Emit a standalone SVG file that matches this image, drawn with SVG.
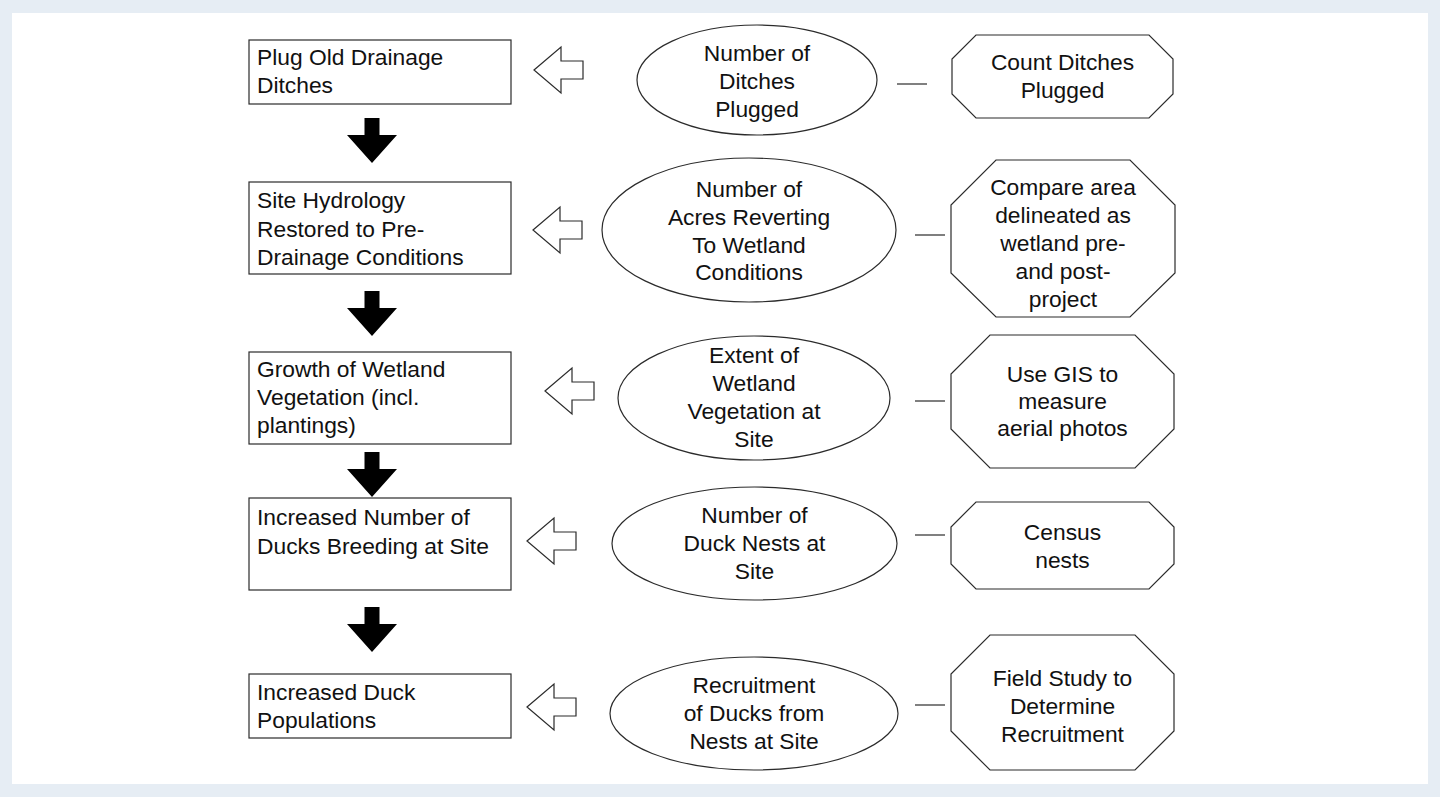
<svg xmlns="http://www.w3.org/2000/svg" xmlns:xlink="http://www.w3.org/1999/xlink" width="1440" height="797" viewBox="0 0 1440 797">
  <style>
    .shape { fill: #ffffff; stroke: #2b2b2b; stroke-width: 1.2; }
    .lbl { font-family: "Liberation Sans", Arial, sans-serif; font-size: 22.8px; fill: #111111; }
    .mid { text-anchor: middle; }
    .link { stroke: #2b2b2b; stroke-width: 1.2; fill: none; }
    .hollow { fill: #ffffff; stroke: #2b2b2b; stroke-width: 1.2; }
    .solid { fill: #000000; stroke: none; }
  </style>
  <defs>
    <!-- hollow arrow pointing left, origin at its tip -->
    <path id="leftArrow" d="M0,0 L27,-23 L27,-9 L49,-9 L49,9 L27,9 L27,23 Z"/>
    <!-- solid arrow pointing down, origin at top centre -->
    <path id="downArrow" d="M-7.5,0 H7.5 V17 H25 L0,45 L-25,17 H-7.5 Z"/>
  </defs>

  <!-- page -->
  <rect x="0" y="0" width="1440" height="797" fill="#e6edf4"/>
  <rect x="12" y="13" width="1416" height="771" fill="#ffffff"/>

  <!-- outcome chain (left column) -->
  <g id="step-plug">
    <rect class="shape" x="249" y="40" width="262" height="64"/>
    <text class="lbl" x="257" y="65">Plug Old Drainage</text>
    <text class="lbl" x="257" y="93">Ditches</text>
  </g>
  <g id="step-hydrology">
    <rect class="shape" x="249" y="182" width="262" height="92"/>
    <text class="lbl" x="257" y="208">Site Hydrology</text>
    <text class="lbl" x="257" y="237">Restored to Pre-</text>
    <text class="lbl" x="257" y="265">Drainage Conditions</text>
  </g>
  <g id="step-vegetation">
    <rect class="shape" x="249" y="352" width="262" height="92"/>
    <text class="lbl" x="257" y="377">Growth of Wetland</text>
    <text class="lbl" x="257" y="405">Vegetation (incl.</text>
    <text class="lbl" x="257" y="433">plantings)</text>
  </g>
  <g id="step-breeding">
    <rect class="shape" x="249" y="498" width="262" height="92"/>
    <text class="lbl" x="257" y="525">Increased Number of</text>
    <text class="lbl" x="257" y="554">Ducks Breeding at Site</text>
  </g>
  <g id="step-population">
    <rect class="shape" x="249" y="674" width="262" height="64"/>
    <text class="lbl" x="257" y="700">Increased Duck</text>
    <text class="lbl" x="257" y="728">Populations</text>
  </g>

  <!-- indicators (middle column) -->
  <g id="ind-ditches">
    <ellipse class="shape" cx="757" cy="80" rx="120" ry="55"/>
    <text class="lbl mid" x="757" y="61">Number of</text>
    <text class="lbl mid" x="757" y="89">Ditches</text>
    <text class="lbl mid" x="757" y="117">Plugged</text>
  </g>
  <g id="ind-acres">
    <ellipse class="shape" cx="749" cy="230" rx="147" ry="72"/>
    <text class="lbl mid" x="749" y="197">Number of</text>
    <text class="lbl mid" x="749" y="225">Acres Reverting</text>
    <text class="lbl mid" x="749" y="253">To Wetland</text>
    <text class="lbl mid" x="749" y="280">Conditions</text>
  </g>
  <g id="ind-vegetation">
    <ellipse class="shape" cx="754" cy="398" rx="136" ry="62"/>
    <text class="lbl mid" x="754" y="363">Extent of</text>
    <text class="lbl mid" x="754" y="391">Wetland</text>
    <text class="lbl mid" x="754" y="419">Vegetation at</text>
    <text class="lbl mid" x="754" y="447">Site</text>
  </g>
  <g id="ind-nests">
    <ellipse class="shape" cx="754.5" cy="543.5" rx="142.5" ry="56.5"/>
    <text class="lbl mid" x="754.5" y="523">Number of</text>
    <text class="lbl mid" x="754.5" y="551">Duck Nests at</text>
    <text class="lbl mid" x="754.5" y="579">Site</text>
  </g>
  <g id="ind-recruitment">
    <ellipse class="shape" cx="754" cy="713.5" rx="144" ry="56.5"/>
    <text class="lbl mid" x="754" y="693">Recruitment</text>
    <text class="lbl mid" x="754" y="721">of Ducks from</text>
    <text class="lbl mid" x="754" y="749">Nests at Site</text>
  </g>

  <!-- methods (right column) -->
  <g id="method-count">
    <polygon class="shape" points="976,35 1149,35 1173,59 1173,94 1149,118 976,118 952,94 952,59"/>
    <text class="lbl mid" x="1062.5" y="70">Count Ditches</text>
    <text class="lbl mid" x="1062.5" y="98">Plugged</text>
  </g>
  <g id="method-compare">
    <polygon class="shape" points="996,160 1130,160 1175,205 1175,273 1130,317 996,317 951,273 951,205"/>
    <text class="lbl mid" x="1063" y="195">Compare area</text>
    <text class="lbl mid" x="1063" y="223">delineated as</text>
    <text class="lbl mid" x="1063" y="251">wetland pre-</text>
    <text class="lbl mid" x="1063" y="279">and post-</text>
    <text class="lbl mid" x="1063" y="307">project</text>
  </g>
  <g id="method-gis">
    <polygon class="shape" points="990,335 1135,335 1174,374 1174,429 1135,468 990,468 951,429 951,374"/>
    <text class="lbl mid" x="1062.5" y="382">Use GIS to</text>
    <text class="lbl mid" x="1062.5" y="409">measure</text>
    <text class="lbl mid" x="1062.5" y="436">aerial photos</text>
  </g>
  <g id="method-census">
    <polygon class="shape" points="976,502 1149,502 1174,527 1174,564 1149,589 976,589 951,564 951,527"/>
    <text class="lbl mid" x="1062.5" y="540">Census</text>
    <text class="lbl mid" x="1062.5" y="568">nests</text>
  </g>
  <g id="method-field">
    <polygon class="shape" points="990,635 1135,635 1174,674 1174,731 1135,770 990,770 951,731 951,674"/>
    <text class="lbl mid" x="1062.5" y="686">Field Study to</text>
    <text class="lbl mid" x="1062.5" y="714">Determine</text>
    <text class="lbl mid" x="1062.5" y="742">Recruitment</text>
  </g>

  <!-- connectors -->
  <g id="connectors">
    <!-- sequence arrows between outcomes -->
    <use xlink:href="#downArrow" href="#downArrow" class="solid" x="372" y="118"/>
    <use xlink:href="#downArrow" href="#downArrow" class="solid" x="372" y="291"/>
    <use xlink:href="#downArrow" href="#downArrow" class="solid" x="372" y="452"/>
    <use xlink:href="#downArrow" href="#downArrow" class="solid" x="372" y="607"/>
    <!-- indicator to outcome arrows -->
    <use xlink:href="#leftArrow" href="#leftArrow" class="hollow" x="534" y="70"/>
    <use xlink:href="#leftArrow" href="#leftArrow" class="hollow" x="533" y="230"/>
    <use xlink:href="#leftArrow" href="#leftArrow" class="hollow" x="545" y="391"/>
    <use xlink:href="#leftArrow" href="#leftArrow" class="hollow" x="527" y="541"/>
    <use xlink:href="#leftArrow" href="#leftArrow" class="hollow" x="527" y="707"/>
    <!-- indicator to method links -->
    <line class="link" x1="897" y1="84" x2="927" y2="84"/>
    <line class="link" x1="915" y1="235" x2="945" y2="235"/>
    <line class="link" x1="915" y1="401" x2="945" y2="401"/>
    <line class="link" x1="915" y1="535" x2="945" y2="535"/>
    <line class="link" x1="915" y1="705" x2="945" y2="705"/>
  </g>
</svg>
